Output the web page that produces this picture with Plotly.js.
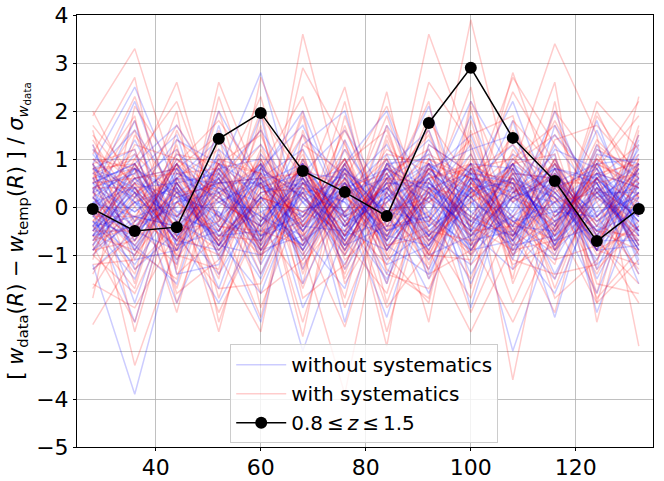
<!DOCTYPE html>
<html>
<head>
<meta charset="utf-8">
<script src="https://cdn.plot.ly/plotly-3.0.1.min.js"></script>
<style>
  html, body { margin: 0; padding: 0; background: #fff; }
  #plot { width: 664px; height: 481px; }
</style>
</head>
<body>
<div id="plot"></div>
<script>
// separation R of the bins
const radii = [28, 36, 44, 52, 60, 68, 76, 84, 92, 100, 108, 116, 124, 132];

// the measured curve, 0.8 <= z <= 1.5
const dataValues = [-0.04, -0.5, -0.42, 1.42, 1.96, 0.75, 0.31, -0.19, 1.75, 2.9, 1.44, 0.54, -0.71, -0.04];

// mocks without systematics
const mocksClean = [
    [0.3,-0.6,0.9,-0.2,0.5,-1.1,0.2,0.8,-0.4,0.1,-0.9,0.6,-0.3,0.4],
    [-0.5,0.8,-0.2,1.1,-0.7,0.3,-1.2,0.4,0.9,-0.6,0.2,-0.1,0.7,-0.8],
    [0.9,2.5,0.4,-0.8,0.6,1.2,-0.3,-1.5,0.2,0.7,-0.4,1.0,-0.6,0.3],
    [-1.2,-3.9,-0.6,0.3,-1.0,0.5,0.8,-0.2,-1.3,0.4,-0.7,-1.8,0.2,-0.5],
    [0.1,0.4,-1.1,0.7,2.8,-0.4,0.3,1.1,-0.6,-1.2,0.5,0.2,-0.9,1.3],
    [-0.3,-1.0,0.5,-0.6,0.2,0.9,-0.8,0.6,1.4,0.3,-3.0,-0.4,0.8,-0.1],
    [0.6,0.2,1.4,0.9,-0.5,-0.2,1.0,-0.9,0.3,2.2,0.7,-0.6,0.1,0.9],
    [-0.8,0.6,-0.3,-1.4,0.1,-3.0,-0.5,0.4,-0.2,-0.8,1.1,0.6,-1.2,-0.4],
    [1.2,-0.3,0.2,0.5,1.3,0.1,-0.6,-0.3,0.8,-0.1,0.4,1.5,0.5,-1.6],
    [0.0,1.1,-0.8,-0.1,-1.5,0.7,1.6,0.2,-0.9,0.6,-0.2,-0.7,1.2,0.6],
    [-0.4,-1.5,0.7,0.3,0.8,-0.7,-0.1,-2.3,0.5,-0.4,0.9,0.3,-0.5,1.1],
    [0.5,0.9,-0.5,-2.0,-0.3,1.5,0.6,-0.7,0.1,1.1,-0.5,-1.1,0.4,-0.9],
    [-0.9,0.0,1.1,0.6,-0.9,-0.6,-1.7,0.9,1.0,-0.3,0.2,0.8,-1.5,0.2],
    [0.2,-0.8,-1.6,1.2,0.4,0.3,0.5,-0.1,-1.8,0.5,1.3,-0.2,0.6,-0.3],
    [0.7,1.6,0.3,-0.4,-2.4,1.0,-0.4,0.5,0.4,-1.0,-0.1,2.0,-0.2,0.8],
    [-0.6,-0.4,0.0,0.8,1.0,-1.3,0.9,-1.1,-0.5,0.3,0.6,-0.5,1.0,-1.2],
    [1.0,0.3,-0.7,-0.9,0.3,0.6,-0.9,0.3,2.1,-0.5,-1.3,0.4,-0.8,0.5],
    [-0.1,-2.4,0.6,0.2,-0.6,-0.1,0.4,1.3,-0.3,0.8,0.5,-1.4,0.3,-0.6],
    [0.4,0.7,1.5,-1.1,0.7,2.0,-0.2,-0.6,0.6,-1.4,0.1,0.7,-0.4,1.5],
    [-1.0,-0.2,-0.4,0.4,-0.2,-0.8,1.2,0.0,-1.1,0.2,0.9,-0.3,1.6,-0.2],
    [0.8,1.2,-1.2,1.7,-1.2,0.4,0.1,-1.4,0.7,1.5,-0.6,0.1,-1.1,0.7],
    [-0.2,-0.7,0.8,-0.5,0.9,-2.1,-0.3,0.7,-0.7,0.0,1.8,-0.9,0.5,-1.0],
    [0.3,2.2,-0.1,0.1,-0.4,0.8,-1.3,0.1,1.2,-0.7,0.3,1.1,-2.2,0.1],
    [-0.7,0.1,0.4,-1.7,0.6,-0.3,0.7,-0.5,-0.1,0.9,-0.8,-0.6,0.9,1.0],
    [1.3,-1.1,-0.9,0.6,1.6,0.2,-0.7,1.7,0.4,-0.2,1.0,0.2,-0.7,-0.7],
    [-0.4,0.5,1.2,-0.2,-0.7,1.3,2.0,-0.8,-1.4,0.4,-0.4,1.3,0.2,0.4],
    [0.1,-1.3,-0.5,0.9,0.2,-1.0,0.3,0.6,1.1,-2.1,0.7,-0.8,1.3,-0.5],
    [0.6,0.8,0.2,-0.7,-1.8,0.5,-0.5,-0.9,0.2,1.3,-1.0,0.5,-0.1,1.2],
    [-1.3,-0.5,1.0,0.5,0.5,-0.5,0.9,2.0,-0.4,0.6,0.4,-2.3,0.7,-0.3],
    [0.0,1.8,-1.4,-1.2,1.1,0.1,-1.0,0.2,0.9,-0.9,-0.7,0.9,-1.3,0.6],
    [0.5,-0.1,0.6,1.4,-0.1,-0.8,0.5,-1.2,-0.8,0.5,2.2,-0.1,0.4,-1.4],
    [-0.5,0.3,-2.0,0.0,0.8,1.7,-0.2,0.8,1.6,-0.5,0.2,0.6,-0.5,0.2],
    [0.9,-0.9,0.3,-0.8,-1.0,-0.4,1.4,-0.4,-0.2,1.9,-0.3,-1.0,1.1,0.9],
    [-0.2,1.4,-0.3,2.0,0.4,0.7,-0.6,0.5,0.5,-0.3,0.8,0.3,-0.9,-0.8],
    [0.2,-0.6,0.9,-0.3,1.9,-1.6,0.2,-1.6,1.3,0.7,-1.1,1.7,0.3,0.3],
    [-0.9,0.4,-0.7,0.7,-0.4,0.9,-2.4,0.6,-0.6,0.2,0.6,-0.4,1.8,-0.6],
    [0.4,-2.0,0.5,-1.0,0.2,-0.2,0.8,-0.1,0.3,-1.6,0.3,0.8,-0.6,1.4],
    [-0.6,0.9,1.7,0.3,-1.4,0.6,-0.1,1.0,-1.5,0.8,-0.5,-1.5,0.6,-0.2],
    [1.1,0.1,-0.2,-0.5,0.7,-0.9,0.6,-0.7,0.8,1.2,1.5,0.0,-1.8,0.5],
    [-0.3,-1.2,0.1,1.0,-0.9,0.4,-0.8,0.3,-1.0,-0.6,-0.2,1.2,0.8,-1.1],
    [0.2,-0.4,0.6,-0.7,0.3,0.5,-0.2,0.4,-0.8,0.6,-0.3,0.1,0.7,-0.5],
    [-0.6,0.3,-0.2,0.5,-0.8,0.1,0.7,-0.5,0.2,-0.4,0.8,-0.7,0.0,0.6],
    [0.5,0.9,-0.6,0.1,0.6,-0.9,0.3,-0.2,0.9,0.2,-0.6,0.5,-0.8,0.1],
    [-0.1,-0.8,0.3,0.8,-0.3,0.6,-0.7,0.9,-0.1,-0.9,0.4,-0.2,0.5,-0.9],
    [0.8,0.1,-0.9,-0.3,0.9,-0.2,0.5,-0.8,0.4,0.7,-0.1,0.9,-0.3,0.3],
    [-0.4,0.6,0.8,-0.6,-0.5,0.8,-0.4,0.2,-0.6,0.3,0.9,-0.8,0.4,-0.2],
    [0.1,-0.2,-0.4,0.9,0.4,-0.5,0.9,-0.3,0.7,-0.7,-0.5,0.3,-0.6,0.8],
    [-0.7,0.5,0.2,-0.1,-0.9,0.3,-0.1,0.7,-0.4,0.5,0.2,-0.4,0.9,-0.4],
    [0.6,-0.7,0.7,0.4,0.1,-0.8,0.2,-0.6,0.5,-0.2,-0.8,0.7,-0.2,0.5],
    [-0.2,0.8,-0.8,-0.5,0.7,0.4,-0.6,0.5,-0.9,0.9,0.1,-0.6,0.3,-0.7],
    [0.4,-0.1,0.5,0.7,-0.6,-0.3,0.8,-0.9,0.3,-0.5,0.6,0.2,-0.9,0.9],
    [-0.5,0.4,-0.3,-0.8,0.5,0.9,-0.3,0.1,0.8,-0.1,-0.7,0.8,0.6,-0.3],
    [0.9,-0.5,0.1,0.3,-0.2,-0.6,0.4,0.8,-0.5,0.4,0.5,-0.9,-0.1,0.2],
    [-0.8,0.2,0.9,-0.4,0.8,0.2,-0.8,-0.4,0.6,-0.8,-0.2,0.4,0.8,-0.6],
    [0.3,0.7,-0.5,0.6,-0.7,0.7,0.6,-0.1,-0.3,0.8,-0.9,-0.3,0.2,0.7],
    [-0.3,-0.6,0.4,-0.9,0.2,-0.4,-0.5,0.6,0.1,-0.6,0.7,0.6,-0.5,-0.1],
    [0.7,0.3,-0.7,0.2,-0.4,0.5,0.1,-0.7,0.9,0.1,-0.4,-0.5,0.7,0.4],
    [-0.9,-0.3,0.6,0.5,0.6,-0.7,0.7,0.3,-0.7,0.6,0.3,0.1,-0.7,0.8],
    [0.0,0.6,-0.1,-0.6,-0.1,0.3,-0.9,0.9,0.4,-0.3,-0.6,0.8,0.5,-0.8],
    [0.5,-0.9,0.8,0.1,0.5,-0.1,0.3,-0.5,-0.2,0.9,0.8,-0.7,-0.4,0.3],
    [-0.6,0.1,-0.6,0.8,-0.8,0.9,-0.2,0.2,0.6,-0.9,0.2,0.5,0.9,-0.5],
    [0.2,0.8,0.3,-0.2,0.9,-0.5,0.5,-0.6,-0.8,0.4,-0.3,-0.1,-0.2,0.6],
    [-0.1,-0.5,-0.9,0.4,-0.3,0.6,-0.7,0.8,0.3,-0.5,0.9,-0.8,0.6,-0.9],
    [0.8,0.4,0.5,-0.8,0.2,-0.9,0.8,-0.2,0.7,0.2,-0.7,0.6,-0.9,0.1],
    [-0.4,-0.2,0.1,0.6,-0.6,0.2,-0.4,0.4,-0.6,0.7,0.5,-0.3,0.3,0.9]
];

// mocks with systematics
const mocksSyst = [
    [1.9,3.3,0.5,-0.8,1.2,-0.4,0.9,1.6,-0.7,0.3,1.1,-0.5,0.6,1.3],
    [-2.45,-1.0,0.6,1.2,-0.9,0.8,-0.3,-1.2,0.5,1.4,-0.6,0.2,-1.4,0.3],
    [0.4,-3.3,-0.8,0.5,1.6,-1.3,0.4,0.7,-1.5,-0.2,0.9,1.5,0.3,-0.7],
    [-0.6,0.7,2.6,-0.4,-0.5,1.9,-1.5,0.2,1.1,0.6,-1.2,-0.8,1.2,0.8],
    [1.3,-0.4,-1.2,2.6,0.4,-0.2,1.2,-0.8,-0.4,3.9,0.3,0.6,-0.9,-1.2],
    [-1.1,1.5,0.3,-1.5,2.7,0.5,-0.7,-1.8,0.9,-1.0,1.6,-0.2,0.7,0.4],
    [0.8,-1.6,1.4,0.7,-1.2,3.6,0.2,1.0,-1.1,0.5,-0.5,1.0,-1.8,1.6],
    [-0.3,0.9,-1.8,-1.1,0.3,-0.9,-3.9,0.4,1.6,-0.8,0.4,-1.5,0.4,-0.5],
    [2.0,0.3,0.8,1.5,-2.1,0.2,1.0,-0.5,3.6,1.2,-3.6,0.7,-0.4,0.9],
    [-1.6,-2.1,-0.5,0.2,0.9,-1.7,0.6,2.1,-0.2,-1.5,0.8,3.4,1.5,-2.9],
    [0.6,1.1,0.2,-2.2,-0.3,1.1,-1.1,-0.3,0.6,0.9,-1.0,-0.3,-2.0,1.0],
    [-0.9,-0.7,1.1,0.9,1.5,-0.6,2.2,-1.4,-1.7,0.1,2.4,0.9,0.2,-0.3],
    [1.1,2.7,-1.4,-0.6,-0.7,0.9,-0.4,0.8,0.3,-2.2,-0.2,-1.2,1.9,0.6],
    [-0.2,-0.2,0.9,1.8,0.6,-2.4,0.5,-0.9,1.3,0.7,1.3,0.4,-0.7,-1.6],
    [0.3,1.8,-0.6,-1.7,-1.6,0.4,-1.9,1.4,-0.8,1.6,-0.7,2.0,0.8,1.9],
    [-1.4,0.2,1.7,0.4,2.3,-0.8,0.8,-2.6,0.4,-0.6,0.6,-1.9,-1.1,0.2],
    [1.6,-1.3,-0.3,-0.9,0.1,1.5,-0.8,0.6,-2.4,2.1,-1.6,0.5,0.5,-0.9],
    [-0.7,0.5,-2.2,1.1,-1.0,-0.3,1.6,-0.2,1.9,-0.4,0.7,-0.6,2.2,1.2],
    [0.9,-2.6,0.4,-2.6,0.8,2.3,-0.2,1.9,-0.6,0.3,2.7,1.3,-1.3,-0.4],
    [-0.4,1.3,1.0,0.3,-1.8,-1.1,0.3,-1.1,0.8,-1.2,-0.3,-0.9,0.9,2.2],
    [1.4,0.0,-1.0,-1.3,1.9,0.6,-1.4,0.9,-1.2,0.8,1.0,1.7,-0.2,-1.3],
    [-1.9,2.1,0.7,0.8,-0.4,-1.6,1.9,-0.6,0.2,2.5,-1.3,-0.4,1.4,0.5],
    [0.0,-0.9,-1.5,1.4,0.6,0.7,-0.6,2.4,-1.4,-0.9,0.2,2.6,-2.4,0.9],
    [0.7,1.0,2.2,-0.2,-2.3,1.3,0.7,-1.6,1.0,0.4,-2.0,-0.1,0.6,-0.8],
    [-1.0,-1.8,0.1,-0.5,1.1,-0.5,-2.5,0.3,2.2,-1.7,1.8,0.8,-0.9,1.5],
    [1.7,0.6,-0.9,2.0,-0.8,2.9,1.3,-0.4,-0.3,1.1,-0.4,-2.2,1.1,-0.1],
    [-0.5,-0.5,1.3,-1.9,0.5,-1.2,-0.1,1.2,0.7,-0.3,0.9,1.1,-1.6,-1.8],
    [0.5,2.3,-0.2,0.6,-1.4,0.3,2.5,-1.0,-2.0,1.8,-0.9,-0.7,0.3,1.1],
    [-1.2,-1.1,0.5,-0.7,1.7,-1.9,-1.2,0.5,1.5,-0.5,2.8,0.3,-0.5,-0.6],
    [1.0,0.8,-1.7,1.0,0.0,0.8,0.4,-2.1,-0.9,-2.6,-0.8,1.4,1.7,0.7],
    [-0.8,-2.4,0.6,-1.0,-2.6,1.6,-1.0,1.1,0.9,0.6,0.5,-1.1,-0.8,1.7],
    [0.2,1.6,-1.1,0.2,1.3,-0.7,1.7,-0.7,2.6,1.3,-1.5,2.2,-2.0,-1.1],
    [-1.7,-0.3,2.0,-2.4,0.2,-0.1,-0.5,1.7,-1.0,-1.1,1.2,0.1,1.0,0.4],
    [1.2,0.5,-0.4,1.6,-0.6,2.0,-1.6,-0.1,0.1,0.9,-1.1,-1.4,-1.2,2.3],
    [-0.1,-1.4,1.6,-0.3,2.0,-1.4,0.9,-1.3,-1.9,2.2,0.1,1.8,0.1,-1.4],
    [0.6,1.9,-2.0,0.5,-0.9,0.5,-0.9,0.7,1.2,-0.7,-2.4,-0.5,2.0,0.2],
    [-1.3,-0.6,0.9,-1.4,0.7,-2.7,1.4,-2.0,0.4,0.2,1.5,0.6,-1.9,-0.9],
    [1.5,0.4,-0.7,0.9,-1.1,1.0,-1.3,1.5,-0.5,-1.9,0.8,-1.7,0.6,1.0],
    [-0.6,-1.7,1.2,-0.8,1.0,-0.4,0.6,-2.9,1.8,0.5,-0.6,1.0,-0.6,-2.0],
    [0.9,1.2,-1.3,2.3,-0.2,1.2,-2.1,0.1,-1.3,1.5,1.9,-0.9,1.3,0.6],
    [0.7,-0.5,0.9,-0.9,0.4,0.8,-0.6,0.6,-1.0,0.5,-0.2,0.9,-0.7,0.3],
    [-0.8,0.9,-0.3,0.6,-0.9,-0.2,1.0,-0.7,0.4,-0.8,0.9,-0.4,0.6,-1.0],
    [0.3,-0.2,-0.8,1.0,0.7,-0.7,0.2,-0.4,0.8,0.4,-1.0,0.3,0.9,0.5],
    [-0.2,0.6,0.7,-0.4,-0.6,1.0,-0.9,0.9,-0.3,-0.9,0.6,-0.8,-0.2,0.8],
    [1.0,0.2,-0.4,0.3,0.9,-0.5,0.6,-1.0,0.6,0.8,-0.5,0.5,-0.9,-0.4],
    [-0.6,-0.9,0.4,-0.7,0.3,0.4,-0.2,0.3,-0.8,0.2,0.8,-0.6,1.0,0.2],
    [0.4,0.8,-1.0,0.8,-0.2,-0.9,0.8,-0.5,0.9,-0.6,0.3,0.9,-0.4,-0.7],
    [-1.0,0.1,0.6,-0.2,-1.0,0.6,-0.4,0.8,0.1,0.6,-0.8,-0.2,0.5,0.7],
    [0.6,-0.7,0.2,0.5,0.6,-0.3,1.0,-0.8,-0.6,1.0,0.1,0.7,-1.0,-0.3],
    [-0.3,0.5,-0.6,-1.0,0.8,0.2,-0.7,0.1,0.7,-0.4,-0.9,0.4,0.7,0.9],
    [0.9,-0.3,0.9,0.2,-0.5,-0.8,0.4,-0.2,-0.9,0.7,0.6,-0.9,0.2,-0.6],
    [-0.5,1.0,-0.2,0.7,-0.3,0.9,-0.8,0.6,0.5,-0.2,-0.6,0.8,-0.6,0.5],
    [0.2,-0.8,0.5,-0.5,1.0,-0.6,0.3,-0.9,0.3,0.9,0.4,-0.5,0.8,-0.8],
    [-0.9,0.3,-0.9,0.9,-0.7,0.5,-0.1,0.4,-0.5,-0.7,1.0,0.2,-0.3,0.6],
    [0.5,0.6,0.8,-0.8,0.2,-0.1,0.9,-0.6,0.8,0.3,-0.3,-0.7,0.4,-0.2],
    [-0.7,-0.4,0.3,0.4,-0.8,0.7,-0.6,1.0,-0.2,-1.0,0.7,0.6,-0.8,1.0],
    [0.8,0.9,-0.5,-0.3,0.5,-1.0,0.5,-0.3,1.0,0.6,-0.7,0.1,0.3,-0.5],
    [-0.1,-0.6,1.0,0.1,-0.4,0.3,-1.0,0.7,-0.7,0.1,0.5,-1.0,0.9,0.4],
    [0.4,0.4,-0.7,0.9,0.7,-0.4,0.7,-0.1,0.2,-0.5,-0.4,0.6,-0.5,-0.9],
    [-0.4,-1.0,0.1,-0.6,0.1,0.8,-0.3,0.5,-1.0,0.8,0.2,-0.3,0.6,0.1]
];

const FONT = "DejaVu Sans, sans-serif";
const BLUE = "rgba(0,0,255,0.2)";
const RED = "rgba(255,0,0,0.2)";

function mockTrace(values, color, name, first, rank) {
    return {
        x: radii,
        y: values,
        mode: "lines",
        name: name,
        legendgroup: name,
        legendrank: rank,
        showlegend: first,
        line: { color: color, width: 1.5 },
        hoverinfo: "skip"
    };
}

// interleave the two mock sets so the colours mix like the original
let traces = [];
const n = Math.max(mocksClean.length, mocksSyst.length);
for (let i = 0; i < n; i++) {
    if (i < mocksClean.length) traces.push(mockTrace(mocksClean[i], BLUE, "without systematics", i == 0, 1));
    if (i < mocksSyst.length) traces.push(mockTrace(mocksSyst[i], RED, "with systematics", i == 0, 2));
}

traces.push({
    x: radii,
    y: dataValues,
    mode: "lines+markers",
    name: "0.8\u2009≤\u2009<i>z</i>\u2009≤\u20091.5",
    legendrank: 3,
    line: { color: "black", width: 1.5 },
    marker: { color: "black", size: 12 }
});

const axisCommon = {
    showline: true,
    linecolor: "black",
    linewidth: 1,
    mirror: true,
    showgrid: true,
    gridcolor: "#b0b0b0",
    gridwidth: 0.8,
    zeroline: false,
    ticks: "outside",
    ticklen: 3,
    tickcolor: "black",
    tickfont: { family: FONT, size: 22, color: "black" }
};

const layout = {
    width: 664,
    height: 481,
    margin: { l: 77, r: 11, t: 15, b: 34 },
    paper_bgcolor: "white",
    plot_bgcolor: "white",
    font: { family: FONT, color: "black" },
    xaxis: Object.assign({}, axisCommon, {
        range: [25, 134.7],
        tickvals: [40, 60, 80, 100, 120],
        ticklabelstandoff: -2
    }),
    yaxis: Object.assign({}, axisCommon, {
        range: [-5, 4],
        dtick: 1,
        title: {
            text: "[ <i>w</i><sub>data</sub>(<i>R</i>) − <i>w</i><sub>temp</sub>(<i>R</i>) ] / <i>σ</i><sub><i>w</i><sub>data</sub></sub>",
            font: { family: FONT, size: 21, color: "black" },
            standoff: 6
        }
    }),
    legend: {
        x: 0.266,
        y: 0.238,
        xanchor: "left",
        yanchor: "top",
        bgcolor: "rgba(255,255,255,0.8)",
        bordercolor: "#cccccc",
        borderwidth: 1,
        itemwidth: 50,
        font: { family: FONT, size: 20, color: "black" },
        traceorder: "normal"
    },
    showlegend: true
};

const config = { displayModeBar: false, staticPlot: true };

Plotly.newPlot("plot", traces, layout, config);
</script>
</body>
</html>
